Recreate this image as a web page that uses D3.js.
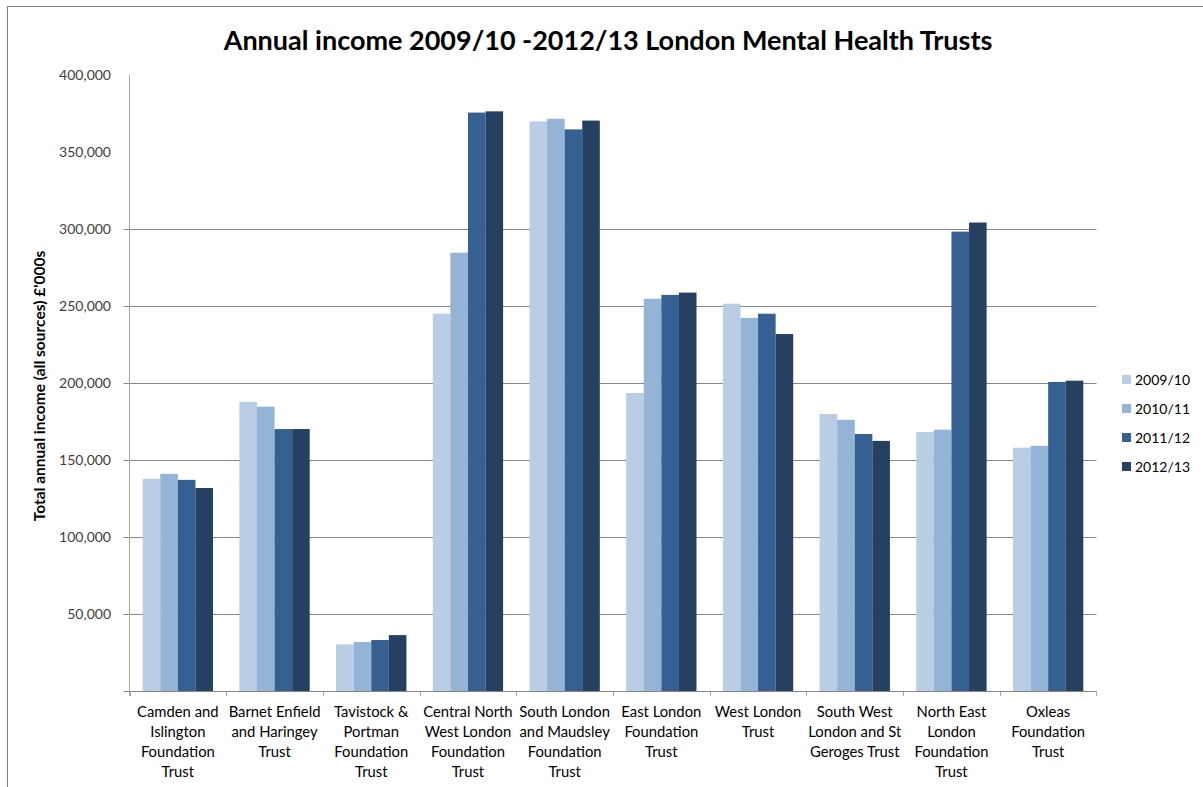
<!DOCTYPE html>
<html>
<head>
<meta charset="utf-8">
<script src="https://cdn.jsdelivr.net/npm/d3@7"></script>
<style>
  body { margin: 0; background: #fff; }
  svg { font-family: Lato, 'Open Sans', sans-serif; }
</style>
</head>
<body>
<svg id="chart" width="1203" height="787"></svg>
<script>
// + -- data (£'000s) ------------------------------------------------------ +
const trusts = [
  ['Camden and', 'Islington', 'Foundation', 'Trust'],
  ['Barnet Enfield', 'and Haringey', 'Trust'],
  ['Tavistock &', 'Portman', 'Foundation', 'Trust'],
  ['Central North', 'West London', 'Foundation', 'Trust'],
  ['South London', 'and Maudsley', 'Foundation', 'Trust'],
  ['East London', 'Foundation', 'Trust'],
  ['West London', 'Trust'],
  ['South West', 'London and St', 'Geroges Trust'],
  ['North East', 'London', 'Foundation', 'Trust'],
  ['Oxleas', 'Foundation', 'Trust']
]
const years = ['2009/10', '2010/11', '2011/12', '2012/13']
const income_0910 = [137800, 187800, 30300, 245000, 369900, 193500, 251500, 179900, 168200, 158000]
const income_1011 = [141000, 184600, 31800, 284600, 371600, 254700, 242300, 176100, 169700, 159200]
const income_1112 = [137100, 170100, 33100, 375600, 364700, 257200, 245000, 166900, 298300, 200700]
const income_1213 = [131800, 170100, 36300, 376400, 370400, 258700, 231800, 162400, 304200, 201500]
const yTicks = [50000, 100000, 150000, 200000, 250000, 300000, 350000, 400000]
const gridTicks = [50000, 100000, 150000, 200000, 250000, 300000]
const colours = ['#B9CDE5', '#95B3D7', '#366092', '#254061']

const series = [income_0910, income_1011, income_1112, income_1213]
const ids = trusts.map((t, i) => 'c' + i)

let svg = d3.select('#chart')

// outer frame (only left + top show in the picture)
svg.append('rect')
  .attr('x', 7.5).attr('y', 6.5)
  .attr('width', 1210).attr('height', 800)
  .attr('fill', 'none').attr('stroke', '#7f7f7f').attr('stroke-width', 1)

const plotLeft = 129.5, plotRight = 1096.5, plotTop = 75, plotBottom = 691

let y = d3.scaleLinear().domain([0, 400000]).range([plotBottom, plotTop])
let x0 = d3.scaleBand().domain(ids).range([plotLeft, plotRight]).paddingInner(0).paddingOuter(0)
let x1 = d3.scaleBand().domain(years).range([0, x0.bandwidth()]).paddingInner(0).paddingOuter(0.75)

// + -- grid lines: only up to 300,000 in the original --------------------- +
svg.append('g').selectAll('line')
  .data(gridTicks)
  .join('line')
  .attr('x1', plotLeft - 6).attr('x2', plotRight)
  .attr('y1', d => Math.round(y(d)) + 0.5).attr('y2', d => Math.round(y(d)) + 0.5)
  .attr('stroke', '#868686').attr('stroke-width', 1)

// bars
let groups = svg.append('g').selectAll('g')
  .data(ids)
  .join('g')
  .attr('transform', d => 'translate(' + x0(d) + ',0)')

groups.selectAll('rect')
  .data((d, i) => years.map((yr, j) => ({year: yr, value: series[j][i], k: j})))
  .join('rect')
  .attr('x', d => x1(d.year))
  .attr('width', x1.bandwidth())
  .attr('y', d => y(d.value))
  .attr('height', d => plotBottom - y(d.value))
  .attr('fill', d => colours[d.k])

// y axis line
svg.append('line')
  .attr('x1', plotLeft).attr('x2', plotLeft).attr('y1', plotTop).attr('y2', plotBottom + 5)
  .attr('stroke', '#a6a6a6')

// x axis baseline + category ticks
svg.append('line')
  .attr('x1', plotLeft - 6).attr('x2', plotRight).attr('y1', plotBottom + 0.5).attr('y2', plotBottom + 0.5)
  .attr('stroke', '#868686')
svg.append('g').selectAll('line')
  .data(ids.concat(['end']))
  .join('line')
  .attr('x1', d => d === 'end' ? plotRight : Math.round(x0(d)) + 0.5)
  .attr('x2', d => d === 'end' ? plotRight : Math.round(x0(d)) + 0.5)
  .attr('y1', plotBottom).attr('y2', plotBottom + 5)
  .attr('stroke', '#a6a6a6')

// y tick labels
svg.append('g').selectAll('text')
  .data(yTicks)
  .join('text')
  .attr('x', 111)
  .attr('y', d => y(d) + 5)
  .attr('text-anchor', 'end')
  .attr('font-size', 14)
  .attr('fill', '#404040')
  .text(d => d3.format(',')(d))

// category labels
let labels = svg.append('g').selectAll('text')
  .data(trusts)
  .join('text')
  .attr('x', (d, i) => x0(ids[i]) + x0.bandwidth() / 2)
  .attr('y', 717)
  .attr('text-anchor', 'middle')
  .attr('font-size', 14.8)
  .attr('fill', '#000')
labels.selectAll('tspan')
  .data(d => d)
  .join('tspan')
  .attr('x', function () { return d3.select(this.parentNode).attr('x') })
  .attr('dy', (d, i) => i === 0 ? 0 : 20)
  .text(d => d)

// y axis title
svg.append('text')
  .attr('transform', 'translate(45,386) rotate(-90)')
  .attr('text-anchor', 'middle')
  .attr('font-size', 15.5)
  .attr('font-weight', 700)
  .attr('fill', '#000')
  .text('Total annual income (all sources) £\'000s')

// chart title
svg.append('text')
  .attr('x', 608).attr('y', 50)
  .attr('text-anchor', 'middle')
  .attr('font-size', 27)
  .attr('font-weight', 700)
  .attr('fill', '#000')
  .text('Annual income 2009/10 -2012/13 London Mental Health Trusts')

// legend
let legend = svg.append('g').selectAll('g')
  .data(years)
  .join('g')
  .attr('transform', (d, i) => 'translate(1122,' + (380 + i * 29) + ')')
legend.append('rect')
  .attr('x', 0).attr('y', -5).attr('width', 9).attr('height', 9)
  .attr('fill', (d, i) => colours[i])
legend.append('text')
  .attr('x', 13).attr('y', 5)
  .attr('font-size', 14)
  .attr('fill', '#000')
  .text(d => d)
</script>
</body>
</html>
